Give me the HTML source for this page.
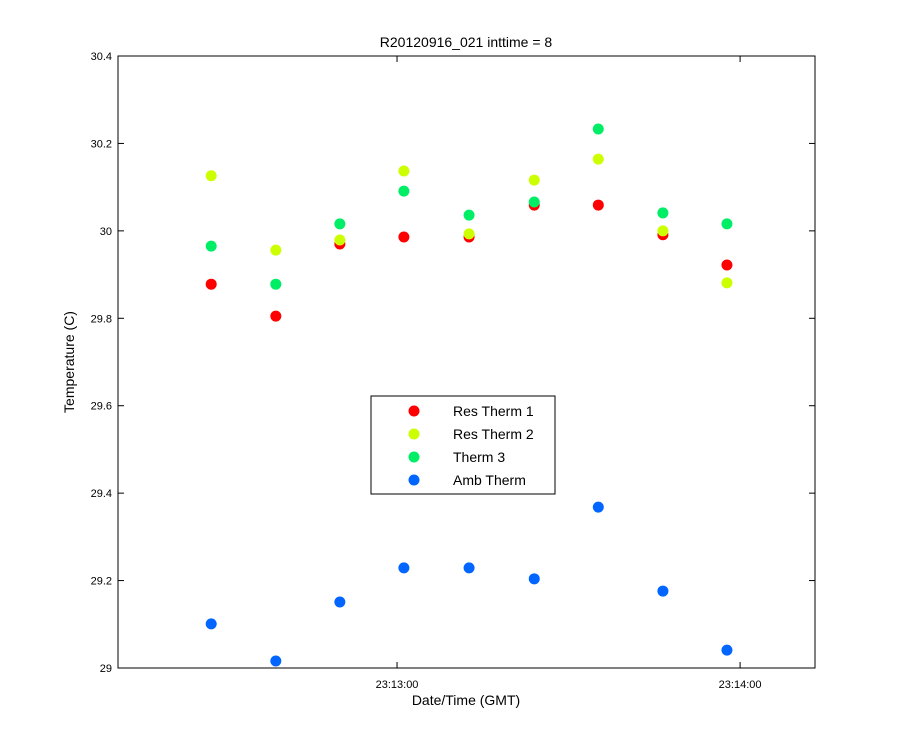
<!DOCTYPE html>
<html><head><meta charset="utf-8"><style>
body{margin:0;background:#fff;}
svg{display:block;font-family:"Liberation Sans",sans-serif;}
</style></head><body>
<svg id="chart" width="900" height="750">
<rect width="900" height="750" fill="#fff"/>
<rect x="118" y="56" width="697" height="612" fill="#fff" stroke="#000" stroke-width="1"/>
<text x="466" y="47" font-size="14" text-anchor="middle">R20120916_021 inttime = 8</text>
<text x="466" y="705" font-size="14" text-anchor="middle">Date/Time (GMT)</text>
<text transform="translate(74,362) rotate(-90)" font-size="14" text-anchor="middle">Temperature (C)</text>
<g id="yticks"></g><g id="xticks"></g><g id="marks"></g>
<g>
<rect x="371" y="396" width="184" height="98" fill="#fff" stroke="#000"/>
<g id="legend"></g>
</g>
</svg>
<script>
const times=[27.5,38.8,50.0,61.2,72.6,84.0,95.2,106.5,117.7];
const resTherm1=[29.878,29.805,29.970,29.986,29.986,30.059,30.059,29.991,29.922];
const resTherm2=[30.126,29.956,29.979,30.137,29.993,30.116,30.164,30.000,29.881];
const therm3=[29.965,29.878,30.016,30.091,30.036,30.066,30.233,30.041,30.016];
const ambTherm=[29.101,29.016,29.151,29.229,29.229,29.204,29.368,29.176,29.041];
const seriesNames=["Res Therm 1","Res Therm 2","Therm 3","Amb Therm"];
const yTicks=[29,29.2,29.4,29.6,29.8,30,30.2,30.4];
const yTickLabels=["29","29.2","29.4","29.6","29.8","30","30.2","30.4"];
const xTicks=[60,120];
const xTickLabels=["23:13:00","23:14:00"];
const colors=["#ff0000","#ccff00","#00ee66","#0066ff"];
const ns="http://www.w3.org/2000/svg";
const X0=118,X1=815,Y0=668,Y1=56;
const xMin=11.2,xMax=133.1,yMin=29,yMax=30.4;
function xs(v){return X0+(v-xMin)/(xMax-xMin)*(X1-X0);}
function ys(v){return Y0-(v-yMin)/(yMax-yMin)*(Y0-Y1);}
function mk(t,a,p){const e=document.createElementNS(ns,t);for(const k in a)e.setAttribute(k,a[k]);(p||document.getElementById('chart')).appendChild(e);return e;}
const yt=document.getElementById('yticks');
yTicks.forEach((v,i)=>{
  const l=mk('line',{x1:X0,x2:X0+6,y1:ys(v),y2:ys(v),stroke:'#000'},yt);
  
  
  const l2=mk('line',{x1:X1-6,x2:X1,y1:ys(v),y2:ys(v),stroke:'#000'},yt);
  
  
  const t=mk('text',{x:X0-6,y:ys(v)+4,'font-size':11,'text-anchor':'end'},yt);
  t.textContent=yTickLabels[i];
  
  
});
const xt=document.getElementById('xticks');
xTicks.forEach((v,i)=>{
  const l=mk('line',{x1:xs(v),x2:xs(v),y1:Y0,y2:Y0-6,stroke:'#000'},xt);
  
  
  const l2=mk('line',{x1:xs(v),x2:xs(v),y1:Y1,y2:Y1+6,stroke:'#000'},xt);
  
  
  const t=mk('text',{x:xs(v),y:Y0+20,'font-size':11,'text-anchor':'middle'},xt);
  t.textContent=xTickLabels[i];
  
  
});
const mg=document.getElementById('marks');
[resTherm1,resTherm2,therm3,ambTherm].forEach((s,si)=>{
  s.forEach((v,i)=>{
    const c=mk('circle',{cx:xs(times[i]),cy:ys(v),r:5.5,fill:colors[si]},mg);
    
    
  });
});
const lg=document.getElementById('legend');
seriesNames.forEach((n,i)=>{
  const y=411+i*23;
  const c=mk('circle',{cx:414,cy:y,r:5.5,fill:colors[i]},lg);
  
  
  const t=mk('text',{x:453,y:y+5,'font-size':14},lg);
  t.textContent=n;
  
  
});
</script>
</body></html>
